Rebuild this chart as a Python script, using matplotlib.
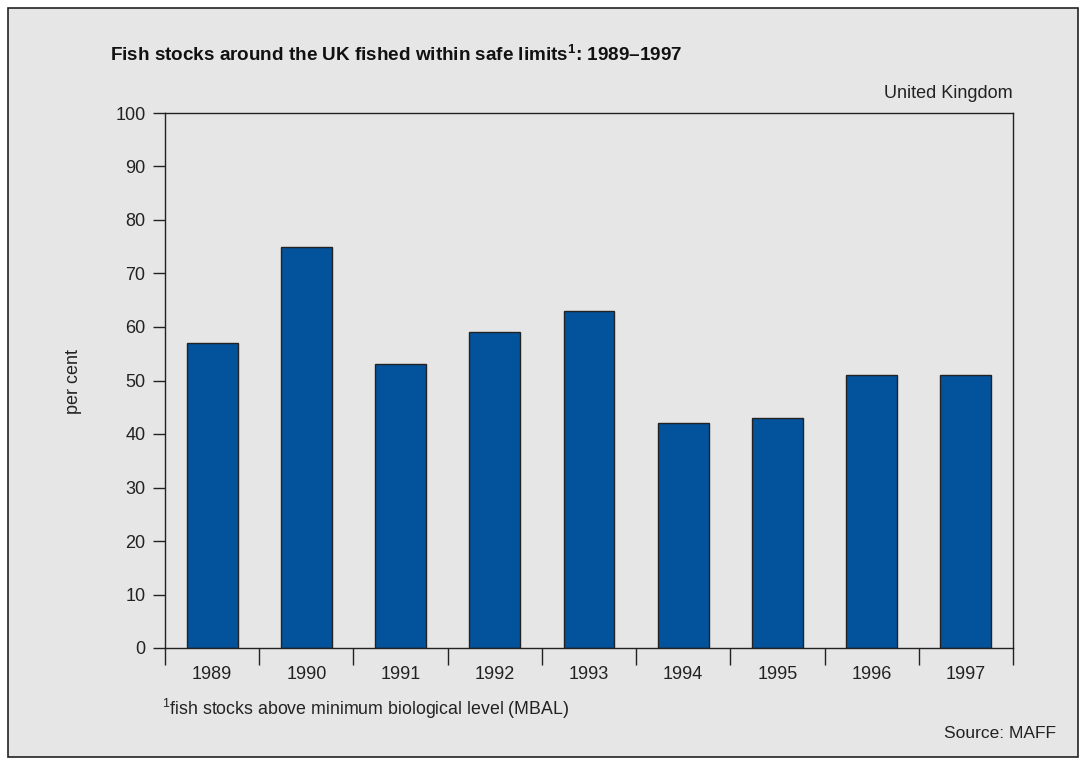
import numpy as np
import matplotlib
matplotlib.use("Agg")
import matplotlib.pyplot as plt
from matplotlib.patches import Rectangle

years = ["1989", "1990", "1991", "1992", "1993", "1994", "1995", "1996", "1997"]
per_cent = [57, 75, 53, 59, 63, 42, 43, 51, 51]

plt.rcParams['font.family'] = ['Liberation Sans', 'DejaVu Sans']
plt.rcParams['mathtext.fontset'] = 'custom'
plt.rcParams['mathtext.rm'] = 'Liberation Sans'
plt.rcParams['mathtext.bf'] = 'Liberation Sans:bold'

W, H = 1086, 765
fig = plt.figure(figsize=(W / 100, H / 100), dpi=100)
fig.patch.set_facecolor("white")

# grey panel with dark border, behind everything
fig.patches.append(Rectangle((8 / W, 8 / H), (W - 16) / W, (H - 16) / H,
                             transform=fig.transFigure, facecolor="#e6e6e6",
                             edgecolor="#222222", linewidth=1.2, zorder=-10))

ax = fig.add_axes([165 / W, 1 - 648 / H, (1013 - 165) / W, (648 - 113) / H])
ax.set_facecolor("none")

x = np.arange(len(years))
ax.bar(x, per_cent, width=0.54, color="#02529c", edgecolor="#222222", linewidth=1.0, zorder=2)

ax.set_xlim(-0.5, len(years) - 0.5)
ax.set_ylim(0, 100)
ax.set_yticks(np.arange(0, 101, 10))
ax.tick_params(axis="y", direction="out", length=9, width=1, colors="#222222",
               labelsize=13, pad=5)

ax.set_xticks(x)
ax.set_xticklabels(years)
ax.tick_params(axis="x", which="major", length=0, labelsize=13, pad=13, colors="#222222")
ax.set_xticks(np.arange(-0.5, len(years)), minor=True)
ax.tick_params(axis="x", which="minor", direction="out", length=12, width=1, color="#222222")

for s in ax.spines.values():
    s.set_color("#222222")
    s.set_linewidth(1.0)

fig.text(73 / W, 1 - 382 / H, "per cent", fontsize=13, rotation=90,
         ha="center", va="center", color="#222222")

fig.text(110 / W, 1 - 61 / H, "Fish stocks around the UK fished within safe limits$^{\\mathbf{1}}$: 1989\u20131997",
         fontsize=13.6, fontweight="bold", va="baseline", ha="left", color="#111111")
fig.text(1013 / W, 1 - 98 / H, "United Kingdom", fontsize=13, ha="right", va="baseline", color="#222222")
fig.text(162 / W, 1 - 715 / H, "$^{1}$fish stocks above minimum biological level (MBAL)",
         fontsize=12.8, ha="left", va="baseline", color="#222222")
fig.text(1056 / W, 1 - 738 / H, "Source: MAFF", fontsize=12.5, ha="right", va="baseline", color="#222222")

fig.savefig("out.png", dpi=100, facecolor=fig.get_facecolor())
